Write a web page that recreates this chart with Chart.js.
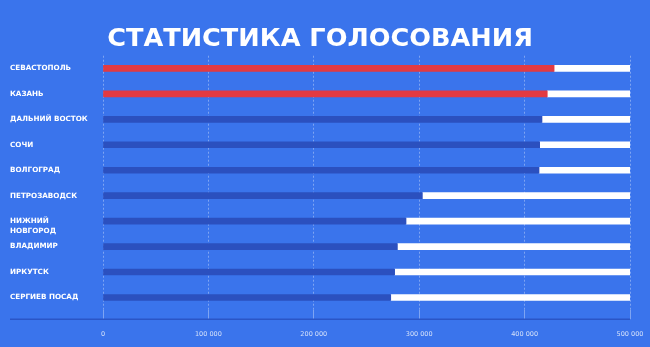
<!DOCTYPE html>
<html>
<head>
<meta charset="utf-8">
<script src="https://cdn.jsdelivr.net/npm/chart.js@4"></script>
<style>
  html, body { margin: 0; padding: 0; background: #3A74EC; }
  #wrap { width: 650px; height: 347px; }
</style>
</head>
<body>
<div id="wrap"><canvas id="c" width="650" height="347"></canvas></div>
<script>
const categories = [
  'СЕВАСТОПОЛЬ',
  'КАЗАНЬ',
  'ДАЛЬНИЙ ВОСТОК',
  'СОЧИ',
  'ВОЛГОГРАД',
  'ПЕТРОЗАВОДСК',
  ['', 'НИЖНИЙ', 'НОВГОРОД'],
  'ВЛАДИМИР',
  'ИРКУТСК',
  'СЕРГИЕВ ПОСАД'
];
const votes = [428000, 421500, 416500, 414300, 413700, 303000, 287500, 279300, 276700, 273000];
const highlighted = [true, true, false, false, false, false, false, false, false, false];
const maxTotal = 500000;
const tickValues = [0, 100000, 200000, 300000, 400000, 500000];
const titleText = 'СТАТИСТИКА ГОЛОСОВАНИЯ';

const remainder = votes.map(v => maxTotal - v);

const axisLine = {
  id: 'axisLine',
  afterDraw(chart) {
    const { ctx, chartArea } = chart;
    ctx.save();
    ctx.strokeStyle = '#2A55C6';
    ctx.lineWidth = 1.5;
    ctx.beginPath();
    ctx.moveTo(10, chartArea.bottom + 9);
    ctx.lineTo(chartArea.right, chartArea.bottom + 9);
    ctx.stroke();
    ctx.restore();
  }
};

new Chart(document.getElementById('c'), {
  type: 'bar',
  data: {
    labels: categories,
    datasets: [
      {
        data: votes,
        backgroundColor: highlighted.map(h => h ? '#E23A42' : '#2B50BF'),
        barThickness: 6,
        borderWidth: 0
      },
      {
        data: remainder,
        backgroundColor: '#FFFFFF',
        barThickness: 6,
        borderWidth: 0
      }
    ]
  },
  options: {
    indexAxis: 'y',
    responsive: false,
    animation: false,
    devicePixelRatio: 1,
    layout: { padding: { left: 10, right: 20, top: 0, bottom: -2 } },
    plugins: {
      legend: { display: false },
      tooltip: { enabled: false },
      title: {
        display: true,
        text: titleText,
        color: '#FFFFFF',
        font: { family: 'DejaVu Sans', size: 25.6, weight: 'bold' },
        padding: { top: 24, bottom: 1 },
        lineHeight: 1.2
      }
    },
    scales: {
      x: {
        stacked: true,
        min: 0,
        max: maxTotal,
        afterBuildTicks(scale) { scale.ticks = tickValues.map(v => ({ value: v })); },
        afterFit(scale) { scale.paddingRight = 0; scale.paddingLeft = 0; },
        grid: {
          display: true,
          color: 'rgba(255,255,255,0.35)',
          lineWidth: 1,
          tickLength: 9,
          drawTicks: true
        },
        border: { display: false, dash: [2, 2] },
        ticks: {
          color: '#D3E0FA',
          font: { family: 'DejaVu Sans', size: 6.5 },
          padding: 11,
          maxRotation: 0,
          autoSkip: false,
          callback: v => v === 0 ? '0' : String(v).replace(/\B(?=(\d{3})+(?!\d))/g, ' ')
        }
      },
      y: {
        stacked: true,
        grid: { display: false },
        border: { display: false },
        afterFit(scale) { scale.width = 93; },
        ticks: {
          color: '#FFFFFF',
          crossAlign: 'far',
          font: { family: 'DejaVu Sans', size: 7.2, weight: 'bold', lineHeight: 1.4 },
          autoSkip: false
        }
      }
    }
  },
  plugins: [axisLine]
});
</script>
</body>
</html>
